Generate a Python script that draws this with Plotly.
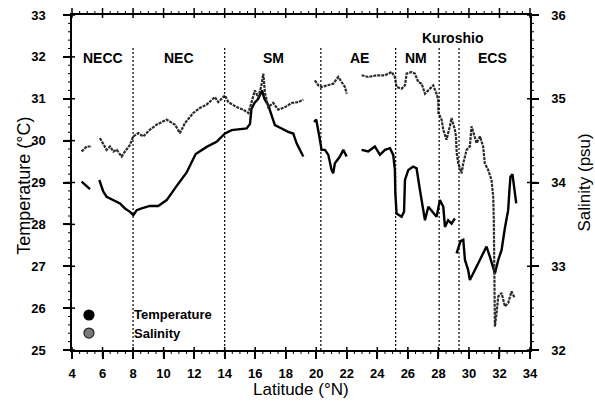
import plotly.graph_objects as go

# ---------------- data ----------------
temp_lat = [4.63, 4.85, 5.18, None, 5.79, 6.05, 6.27, 6.7, 7.14, 7.47, 7.8, 8.02, 8.24, 8.56, 9.1, 9.65,
            10.2, 10.86, 11.51, 12.1, 12.82, 13.47, 14.02, 14.46, 15.0, 15.44, 15.66, 15.75, 15.95, 16.2,
            16.45, 16.6, 16.85, 17.08, 17.29, 17.73, 18.16, 18.49, 18.72, 19.15, None,
            19.85, 20.0, 20.2, 20.35, 20.57, 20.79, 21.0, 21.11, 21.22, 21.55, 21.77, 21.99, None,
            22.97, 23.4, 23.84, 24.17, 24.5, 24.83, 25.04, 25.15, 25.18, 25.26, 25.59, 25.75, 25.81,
            26.03, 26.35, 26.57, 26.79, 26.9, 27.12, 27.34, 27.66, 27.88, 28.1, 28.32, 28.43, 28.64,
            28.86, 29.08, None,
            29.19, 29.45, 29.63, 29.74, 29.95, 30.06, 30.39, 30.72, 30.93, 31.15, 31.37, 31.59, 31.7,
            31.92, 32.14, 32.35, 32.57, 32.65, 32.72, 32.85, 32.95, 33.1]
temp_val = [29.02, 28.95, 28.84, None, 29.06, 28.78, 28.66, 28.58, 28.5, 28.38, 28.3, 28.22, 28.34, 28.38, 28.44, 28.44,
            28.58, 28.92, 29.24, 29.68, 29.85, 29.97, 30.17, 30.25, 30.27, 30.29, 30.4, 30.75, 30.9, 31.0,
            31.2, 31.0, 30.85, 30.57, 30.37, 30.29, 30.21, 30.17, 29.93, 29.62, None,
            30.45, 30.5, 30.1, 29.78, 29.78, 29.66, 29.3, 29.22, 29.46, 29.62, 29.78, 29.62, None,
            29.78, 29.74, 29.86, 29.66, 29.78, 29.82, 29.66, 29.3, 28.74, 28.26, 28.18, 28.3, 29.06,
            29.3, 29.38, 29.34, 28.82, 28.58, 28.1, 28.42, 28.26, 28.18, 28.58, 28.42, 27.94, 28.1,
            28.02, 28.14, None,
            27.31, 27.6, 27.63, 27.15, 26.91, 26.67, 26.91, 27.15, 27.31, 27.47, 27.23, 26.99, 26.83,
            27.15, 27.39, 27.9, 28.34, 28.8, 29.14, 29.2, 28.9, 28.5]

sal_lat = [4.63, 4.96, 5.29, None, 5.83, 6.05, 6.27, 6.49, 6.71, 6.93, 7.25, 7.47, 7.8, 8.01, 8.34, 8.67,
           9.0, 9.1, 9.54, 10.2, 10.75, 11.07, 11.4, 11.94, 12.38, 12.82, 13.36, 13.58, 13.91, 14.02,
           14.24, 14.78, 15.22, 15.55, 15.75, 15.98, 16.2, 16.4, 16.53, 16.64, 16.86, 17.18, 17.51,
           17.95, 18.39, 18.82, 19.15, None,
           19.91, 20.13, 20.35, 20.68, 21.11, 21.44, 21.66, 21.88, 21.99, None,
           22.97, 23.4, 23.95, 24.5, 24.94, 25.15, 25.26, 25.59, 25.81, 25.92, 26.25, 26.46, 26.68,
           26.9, 27.12, 27.45, 27.66, 27.88, 27.99, 28.0, 28.21, 28.32, 28.53, 28.75, 28.86, 29.08,
           29.15, 29.2, 29.3, 29.52, 29.63, 29.85, 30.06, 30.17, 30.39, 30.5, 30.72, 30.93, 31.04,
           31.26, 31.48, 31.59, 31.63, 31.65, 31.67, 31.7, 31.81, 31.92, 32.14, 32.36, 32.57, 32.79, 33.0]
sal_val = [34.37, 34.43, 34.43, None, 34.53, 34.45, 34.39, 34.43, 34.37, 34.39, 34.31, 34.37, 34.45, 34.55, 34.59, 34.55,
           34.61, 34.63, 34.69, 34.75, 34.69, 34.59, 34.71, 34.83, 34.89, 34.93, 35.02, 34.96, 35.02, 35.04,
           34.96, 34.9, 34.87, 34.83, 34.95, 35.10, 35.02, 35.15, 35.3, 35.07, 34.9, 34.95, 34.87,
           34.9, 34.95, 34.96, 34.99, None,
           35.22, 35.16, 35.14, 35.16, 35.18, 35.26, 35.2, 35.14, 35.06, None,
           35.28, 35.26, 35.28, 35.28, 35.32, 35.26, 35.14, 35.12, 35.16, 35.3, 35.32, 35.3, 35.2,
           35.18, 35.06, 35.12, 35.16, 35.06, 34.99, 34.83, 34.75, 34.63, 34.51, 34.67, 34.77, 34.63,
           34.55, 34.35, 34.23, 34.11, 34.23, 34.39, 34.43, 34.67, 34.55, 34.47, 34.55, 34.43, 34.23,
           34.15, 34.03, 33.83, 33.55, 33.19, 32.76, 32.28, 32.44, 32.64, 32.68, 32.52, 32.56, 32.70, 32.62]

boundary_lat = [8.0, 14.0, 20.3, 25.2, 28.05, 29.35]
boundary_top = 32.25

region_names = ["NECC", "NEC", "SM", "AE", "NM", "ECS", "Kuroshio"]
region_lat = [6.03, 11.0, 17.23, 22.8, 26.56, 31.54, 28.92]
region_temp = [31.97, 31.97, 31.97, 31.97, 31.97, 31.97, 32.45]

legend_names = ["Temperature", "Salinity"]
legend_fill = ["black", "#7a7a7a"]
legend_edge = ["black", "#222222"]

x_range = [4, 34]
temp_range = [25, 33]
sal_range = [32, 36]
x_major_step, x_minor_step = 2, 0.5
temp_major_step, temp_minor_step = 1, 0.2
sal_major_step, sal_minor_step = 1, 0.1

FONT = "Arial, 'Liberation Sans', sans-serif"
W, H = 595, 401
M_L, M_R, M_T, M_B = 72, 65, 15, 51
PLOT_W = W - M_L - M_R
PLOT_H = H - M_T - M_B

fig = go.Figure()
fig.add_trace(go.Scatter(x=temp_lat, y=temp_val, mode="lines", line=dict(color="black", width=2.4),
                         connectgaps=False, showlegend=False, yaxis="y"))
fig.add_trace(go.Scatter(x=sal_lat, y=sal_val, mode="lines", line=dict(color="#2a2a2a", width=2.2, dash="3px,1px"),
                         connectgaps=False, showlegend=False, yaxis="y2"))

for bx in boundary_lat:
    fig.add_shape(type="line", x0=bx, x1=bx, y0=temp_range[0], y1=boundary_top, xref="x", yref="y",
                  line=dict(color="black", width=1.2, dash="2px,2px"))

for name, lx, ly in zip(region_names, region_lat, region_temp):
    fig.add_annotation(x=lx, y=ly, xref="x", yref="y", text=name, showarrow=False,
                       font=dict(family=FONT, size=14, color="black", weight="bold"))

# ---- axis tick marks (major ones cross the frame, minor ones point outward) ----
def frange(a, b, step):
    n = int(round((b - a) / step))
    return [round(a + i * step, 6) for i in range(n + 1)]

def is_major(v, step):
    return abs(v / step - round(v / step)) < 1e-6

def frac(v, rng):
    return (v - rng[0]) / (rng[1] - rng[0])

px_x = 1.0 / PLOT_W   # one pixel in horizontal paper units
px_y = 1.0 / PLOT_H   # one pixel in vertical paper units
tick_major = dict(color="black", width=1.5)
tick_minor = dict(color="black", width=1)
for v in frange(x_range[0], x_range[1], x_minor_step):
    p = frac(v, x_range)
    mj = is_major(v, x_major_step)
    ln = tick_major if mj else tick_minor
    # bottom: outward = down
    y0, y1 = ((-7 * px_y, 3 * px_y) if mj else (-4 * px_y, 0))
    fig.add_shape(type="line", xref="paper", yref="paper", x0=p, x1=p, y0=y0, y1=y1, line=ln)
    # top: outward = up
    y0, y1 = ((1 - 3 * px_y, 1 + 7 * px_y) if mj else (1, 1 + 4 * px_y))
    fig.add_shape(type="line", xref="paper", yref="paper", x0=p, x1=p, y0=y0, y1=y1, line=ln)
for v in frange(temp_range[0], temp_range[1], temp_minor_step):
    p = frac(v, temp_range)
    mj = is_major(v, temp_major_step)
    x0, x1 = ((-7 * px_x, 3 * px_x) if mj else (-4 * px_x, 0))
    fig.add_shape(type="line", xref="paper", yref="paper", x0=x0, x1=x1, y0=p, y1=p,
                  line=tick_major if mj else tick_minor)
for v in frange(sal_range[0], sal_range[1], sal_minor_step):
    p = frac(v, sal_range)
    mj = is_major(v, sal_major_step)
    x0, x1 = ((1 - 3 * px_x, 1 + 7 * px_x) if mj else (1, 1 + 4 * px_x))
    fig.add_shape(type="line", xref="paper", yref="paper", x0=x0, x1=x1, y0=p, y1=p,
                  line=tick_major if mj else tick_minor)

# legend (glyphs + labels, placed in the lower-left corner of the plot area)
legend_x_sym = 0.037
legend_x_txt = 0.131
legend_y0 = 0.1045
legend_dy = 0.054
for i, (nm, fc, ec) in enumerate(zip(legend_names, legend_fill, legend_edge)):
    yy = legend_y0 - i * legend_dy
    fig.add_shape(type="circle", xref="paper", yref="paper",
                  x0=legend_x_sym - 5 * px_x, x1=legend_x_sym + 5 * px_x,
                  y0=yy - 5 * px_y, y1=yy + 5 * px_y,
                  fillcolor=fc, line=dict(color=ec, width=1.2))
    fig.add_annotation(x=legend_x_txt, y=yy, xref="paper", yref="paper", xanchor="left", yanchor="middle",
                       text=nm, showarrow=False,
                       font=dict(family=FONT, size=13, color="black", weight="bold"))

# axis titles
fig.add_annotation(x=-0.105, y=0.49, xref="paper", yref="paper", xanchor="center", yanchor="middle",
                   text="Temperature (°C)", textangle=-90,
                   showarrow=False, font=dict(family=FONT, size=18, color="black"))
fig.add_annotation(x=1.118, y=0.5, xref="paper", yref="paper", xanchor="center", yanchor="middle",
                   text="Salinity (psu)", textangle=-90,
                   showarrow=False, font=dict(family=FONT, size=17, color="black"))
fig.add_annotation(x=0.5, y=-0.117, xref="paper", yref="paper", xanchor="center", yanchor="middle",
                   text="Latitude (°N)",
                   showarrow=False, font=dict(family=FONT, size=17, color="black"))

tickfont = dict(family=FONT, size=13, color="black", weight="bold")

fig.update_layout(
    width=W, height=H,
    margin=dict(l=M_L, r=M_R, t=M_T, b=M_B, autoexpand=False),
    paper_bgcolor="white", plot_bgcolor="white",
    font=dict(family=FONT, color="black"),
    showlegend=False,
    xaxis=dict(range=x_range, dtick=x_major_step, tick0=x_range[0], showgrid=False, zeroline=False,
               automargin=False, showline=True, linecolor="black", linewidth=1.5, mirror=True,
               ticks="outside", ticklen=7, tickwidth=1.5, tickcolor="black",
               tickfont=tickfont, ticklabelstandoff=4),
    yaxis=dict(range=temp_range, dtick=temp_major_step, showgrid=False, zeroline=False, automargin=False,
               showline=True, linecolor="black", linewidth=1.5,
               ticks="outside", ticklen=7, tickwidth=1.5, tickcolor="black",
               tickfont=tickfont, ticklabelstandoff=15),
    yaxis2=dict(range=sal_range, dtick=sal_major_step, overlaying="y", side="right", showgrid=False,
                zeroline=False, automargin=False, showline=True, linecolor="black", linewidth=1.5,
                ticks="outside", ticklen=7, tickwidth=1.5, tickcolor="black",
                tickfont=tickfont, ticklabelstandoff=10),
)

fig.write_html("out.html")
